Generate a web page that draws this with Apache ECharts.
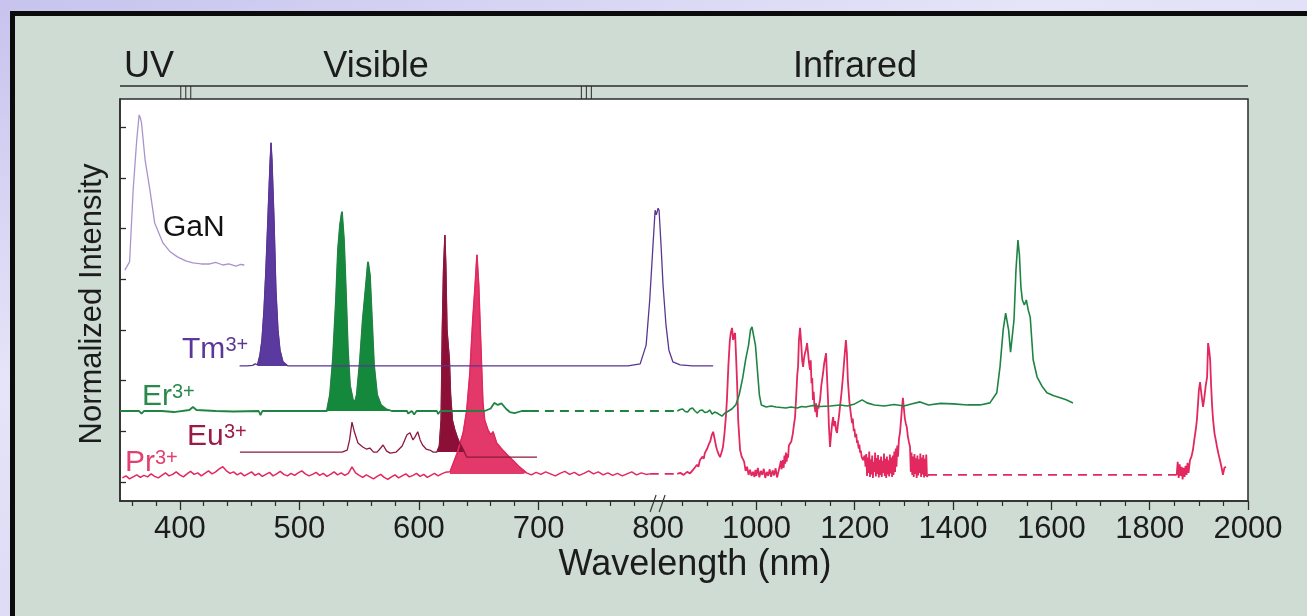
<!DOCTYPE html>
<html>
<head>
<meta charset="utf-8">
<script src="https://cdn.jsdelivr.net/npm/echarts@6/dist/echarts.min.js"></script>
<style>
  html, body { margin: 0; padding: 0; width: 1307px; height: 616px; overflow: hidden;
    background: linear-gradient(160deg, #c6c3ee 0%, #e6e4f8 35%, #d9d7f4 70%, #c8c6ef 100%); }
  #panel { position: absolute; left: 10px; top: 11px; right: 0; bottom: 0;
    background: #cedcd4; border-top: 5px solid #0b0b0b; border-left: 5px solid #0b0b0b; }
  #chart { position: absolute; left: 0; top: 0; width: 1307px; height: 616px; }
</style>
</head>
<body>
<div id="panel"></div>
<div id="chart"></div>
<script>
// ---- axis ticks (nm) ----
const labelTicks = [400, 500, 600, 700, 800, 1000, 1200, 1400, 1600, 1800, 2000];
const majorTicks = [400, 500, 600, 700, 1000, 1200, 1400, 1600, 1800, 2000];
const minorTicks = [360, 380, 420, 440, 460, 480, 520, 540, 560, 580, 620, 640, 660, 680,
  720, 740, 760, 780, 850, 900, 950, 1050, 1100, 1150, 1250, 1300, 1350, 1450, 1500, 1550,
  1650, 1700, 1750, 1850, 1900, 1950];
const intensityTicks = [0, 1, 2, 3, 4, 5, 6, 7];
const regionBounds = [405, 740];   // UV | Visible | Infrared

// ---- spectra: [wavelength nm, normalized intensity (stacked offsets)] ----
const ganSpectrum = [[354,4.18],[358,4.34],[361,5.76],[364,6.75],[366,7.24],[367,7.18],[368,7.08],
  [371,6.35],[375,5.76],[379,5.11],[386,4.71],[392,4.54],[398,4.44],[405,4.36],[411,4.32],[418,4.30],
  [425,4.30],[430,4.33],[436,4.28],[441,4.30],[447,4.26],[451,4.29],[454,4.28]];

const tmBase = [[450,2.29],[456,2.29],[461,2.30],[463,2.33]];
const tmBluePeak = [[465,2.31],[467,2.50],[468.7,2.80],[470.4,3.39],[472,4.18],[473.8,5.27],
  [475.4,6.25],[476.3,6.69],[477.1,6.35],[478.8,5.17],[480.4,3.79],[482.1,3.00],[483.8,2.60],
  [486.3,2.37],[490.5,2.29]];
const tmFlat = [[520,2.29],[600,2.29],[700,2.29],[774.8,2.29]];
const tmIrPeak = [[785,2.33],[790,2.70],[793,3.59],[795.5,4.58],[797.5,5.36],[798.5,5.27],
  [800,5.40],[802,5.36],[806,4.67],[810,3.89],[816,3.10],[822,2.60],[830,2.37],[845,2.31],
  [870,2.29],[912,2.29]];

const erVisA = [[350,1.40],[366,1.40],[368,1.35],[370,1.40],[385,1.40],[395,1.38],[408,1.42],
  [411,1.48],[414,1.42],[430,1.40],[445,1.39],[466,1.40],[467.5,1.32],[469,1.40],[500,1.40],
  [518,1.40]];
const erGreenPeaks = [[523,1.40],[525.6,1.72],[528,2.41],[530.6,3.59],[532.3,4.58],[534,5.07],
  [535.6,5.33],[537.3,4.77],[539,3.69],[540.6,2.60],[542.3,1.91],[544.8,1.62],[546.5,1.58],
  [548,1.72],[550.7,2.41],[553,3.20],[555.7,3.89],[557.4,4.34],[559,4.08],[560.7,3.20],
  [562.4,2.31],[565,1.72],[568.2,1.52],[572.4,1.44],[577.4,1.40]];
const erVisB = [[590,1.40],[591,1.35],[594,1.40],[596,1.33],[598,1.40],[615,1.40],[616,1.34],
  [618,1.40],[655,1.40],[660,1.45],[663,1.56],[666,1.52],[669,1.55],[673,1.44],[676,1.38],
  [680,1.36],[686,1.40],[692.8,1.40]];
const erGap = [[692.8,1.40],[839,1.40]];
const erIr = [[839,1.40],[845,1.43],[850,1.44],[855,1.39],[860,1.38],[865,1.44],[870,1.46],
  [875,1.40],[880,1.36],[885,1.41],[890,1.42],[895,1.37],[900,1.38],[905,1.42],[910,1.34],
  [915,1.38],[920,1.36],[925,1.33],[930,1.30],[935,1.35],[940,1.38],[950,1.44],[958,1.52],
  [965,1.72],[972,2.05],[978,2.41],[984,2.70],[988,3.00],[991,3.06],[994,2.90],[998,2.70],
  [1002,2.21],[1006,1.72],[1010,1.52],[1020,1.48],[1030,1.50],[1040,1.48],[1050,1.47],[1060,1.46],
  [1070,1.48],[1083,1.46],[1092,1.49],[1100,1.48],[1115,1.51],[1130,1.49],[1150,1.50],[1170,1.52],
  [1185,1.50],[1200,1.54],[1215,1.62],[1225,1.56],[1240,1.52],[1260,1.50],[1280,1.53],[1300,1.50],
  [1315,1.54],[1333,1.58],[1350,1.52],[1375,1.55],[1400,1.54],[1430,1.52],[1455,1.52],[1475,1.56],
  [1489,1.76],[1495.5,2.27],[1502,3.00],[1507,3.33],[1510,3.35],[1513,3.00],[1517,2.56],
  [1520,2.54],[1524,3.20],[1528,4.18],[1532,4.77],[1535,4.48],[1538,3.85],[1541,3.59],[1545,3.49],
  [1549,3.59],[1553,3.39],[1557,3.25],[1563,2.41],[1571,2.07],[1581,1.89],[1591,1.76],[1605,1.70],
  [1618,1.66],[1630,1.62],[1644,1.56]];

const euLine = [[450.3,0.59],[535.6,0.59],[540,0.63],[542,0.83],[544,1.18],[546,0.99],[549,0.77],
  [553,0.69],[556,0.65],[559,0.67],[562,0.59],[565,0.59],[568,0.67],[570,0.73],[573,0.61],
  [576,0.57],[581,0.59],[586,0.71],[590,0.93],[592.5,0.97],[595,0.83],[596.7,0.89],[599,0.99],
  [601,0.83],[603,0.73],[606,0.65],[609,0.63],[612,0.59]];
const euRedPeak = [[615,0.59],[617,0.71],[618.5,1.22],[619.5,3.00],[620.5,4.18],[621.7,4.87],
  [622.5,4.28],[623.5,3.00],[624.5,2.70],[625.5,2.41],[626.5,1.72],[628,1.22],[630,1.03],
  [632,0.89],[634,0.77],[636,0.69],[638,0.59]];
const euTail = [[640,0.49],[670,0.49],[698.7,0.49]];

const prVisA = [[352,.08],[355,.12],[358,.06],[361,.10],[364,.14],[367,.09],[370,.13],[373,.10],
  [376,.16],[379,.11],[382,.08],[385,.13],[388,.18],[391,.12],[394,.15],[397,.20],[400,.14],
  [403,.10],[406,.16],[409,.21],[412,.15],[415,.18],[418,.12],[421,.17],[424,.22],[427,.16],
  [430,.20],[433,.26],[436,.30],[439,.22],[442,.17],[445,.20],[448,.14],[451,.18],[454,.12],
  [457,.16],[460,.20],[463,.13],[466,.17],[469,.11],[472,.15],[475,.19],[478,.12],[481,.16],
  [484,.21],[487,.15],[490,.12],[493,.17],[496,.13],[499,.18],[502,.22],[505,.16],[508,.12],
  [511,.15],[514,.19],[517,.13],[520,.17],[523,.11],[526,.15],[529,.20],[532,.14],[535,.18],
  [538,.13],[541,.17],[544,.30],[547,.18],[550,.13],[553,.09],[556,.14],[559,.10],[562,.06],
  [565,.11],[568,.15],[571,.09],[574,.05],[577,.10],[580,.14],[583,.08],[586,.12],[589,.16],
  [592,.10],[595,.13],[598,.17],[601,.11],[604,.15],[607,.09],[610,.13],[613,.17],[616,.12],
  [619,.16],[622,.19]];
const prRedPeak = [[626,.20],[632,.57],[637,.97],[640,1.42],[642.6,2.15],[645,3.20],[647,3.89],
  [648.5,4.48],[650,3.89],[651,3.20],[653.5,1.56],[655,1.22],[657.7,1.03],[660,0.93],[662,0.99],
  [665,0.77],[670,0.63],[674,0.53],[678.6,0.43],[683,0.32],[687,0.24],[690,0.18]];
const prVisB = [[694,.14],[698,.19],[702,.15],[706,.20],[710,.16],[714,.12],[718,.17],[722,.21],
  [726,.15],[730,.19],[734,.13],[738,.17],[742,.22],[746,.16],[750,.20],[754,.14],[758,.18],
  [762,.13],[766,.17],[770,.12],[774,.16],[778,.20],[782,.14],[786,.18],[790,.15],[793,.16]];
const prGapA = [[793,.16],[839,.16]];
const prIrA = [[839,.16],[845,.18],[852,.14],[859,.20],[865,.17],[871,.24],[876,.30],[879,.34],
  [882,.30],[885,.43],[888,.40],[890,.50],[893,.46],[895,.57],[898,.54],[900,.66],[903,.74],
  [906,.80],[909,.92],[912,.99],[915,.85],[918,.70],[920,.63],[923,.55],[926,.49],[929,.58],
  [932,.69],[935,.95],[938,1.30],[940,1.62],[943,2.30],[946,2.80],[948,2.95],[950.5,3.04],
  [952.5,2.80],[954.5,2.90],[956.6,2.94],[958.5,2.50],[960.7,1.95],[963,1.20],[966.8,.63],[970,.50],
  [975,.40],[978,.22],[981,.30],[984,.14],[987,.24],[990,.12],[993,.20],[996,.10],[998,.24],
  [1000,.12],[1003,.28],[1006,.09],[1009,.22],[1012,.14],[1015,.26],[1018,.08],[1021,.20],
  [1024,.12],[1027,.25],[1030,.10],[1033,.23],[1036,.13],[1039,.27],[1042,.09],[1045,.21],
  [1048,.20],[1050,.42],[1051,.25],[1054,.43],[1055.5,.28],[1057,.52],[1058.5,.36],[1060,.58],
  [1061.5,.40],[1063,.55],[1064.5,.48],[1066,.72],[1068.5,.69],[1071,.80],[1074,.95],[1076,1.10],
  [1078.6,1.28],[1081,1.70],[1083,2.10],[1084.7,2.27],[1086.5,2.80],[1088.8,3.04],[1091,2.75],
  [1093,2.40],[1095,2.27],[1097,2.45],[1099,2.55],[1101,2.62],[1103,2.74],[1105,2.55],[1107,2.35],
  [1109,2.21],[1110.5,2.40],[1112,1.95],[1113.5,2.05],[1115,1.62],[1116.5,1.78],[1118,1.50],
  [1120,1.38],[1121.5,1.55],[1123,1.28],[1124.5,1.50],[1126,1.45],[1129.5,1.62],[1132,1.90],
  [1135.6,2.15],[1138,2.35],[1141.7,2.54],[1143.5,2.10],[1145.7,1.62],[1147.5,1.10],[1149.8,.69],
  [1152,.95],[1154,1.15],[1156,1.28],[1158,1.10],[1160,1.20],[1162,1.02],[1164,.97],[1166,1.15],
  [1168,1.30],[1170,1.48],[1173,1.75],[1176,2.07],[1179,2.45],[1182,2.80],[1184,2.55],[1186,2.01],
  [1189,1.60],[1192,1.35],[1194.6,1.16],[1196,1.25],[1198,1.00],[1199.5,1.05],[1201,.88],
  [1203,.95],[1204.7,.77],[1206,.82],[1208,.66],[1209.5,.74],[1211,.58],[1212.5,.62],[1214,.50],
  [1217,.43],[1220,.52],[1222,.30],[1223.5,.55],[1225,.12],[1226.5,.48],[1228,.18],[1229.5,.60],
  [1231,.10],[1232.5,.45],[1234,.15],[1235.5,.52],[1237,.08],[1238.5,.40],[1240,.20],[1241.5,.58],
  [1243,.11],[1244.5,.47],[1246,.16],[1247.5,.53],[1249,.09],[1250.5,.44],[1252,.14],[1253.5,.50],
  [1255,.10],[1256.5,.42],[1258,.18],[1259.5,.56],[1261,.12],[1262.5,.46],[1264,.08],[1265.5,.50],
  [1267,.15],[1268.5,.43],[1270,.11],[1271.5,.54],[1273,.17],[1274.5,.48],[1276,.10],[1277.5,.52],
  [1279,.14],[1280.5,.60],[1282,.20],[1283.5,.66],[1285,.30],[1286.5,.72],[1288,.50],[1290,.85],
  [1292,.97],[1294,1.20],[1296,1.45],[1298,1.66],[1300,1.45],[1302,1.25],[1304,1.15],[1306,1.08],
  [1308,.90],[1310,.80],[1312.5,.69],[1314,.20],[1315.5,.58],[1317,.14],[1318.5,.50],[1320,.10],
  [1321.5,.55],[1323,.16],[1324.5,.47],[1326,.08],[1327.5,.52],[1329,.13],[1330.5,.45],[1332,.18],
  [1333.5,.56],[1335,.10],[1336.5,.48],[1338,.15],[1339.5,.53],[1341,.09],[1342.5,.46],[1344,.12],
  [1345.5,.54],[1347,.10],[1349,.14]];
const prGapB = [[1349,.14],[1855,.14]];
const prIrB = [[1855,.14],[1857,.40],[1859,.08],[1861,.35],[1863,.12],[1865,.30],[1867,.05],
  [1869,.28],[1871,.10],[1873,.32],[1875,.14],[1877,.38],[1879,.18],[1882,.43],[1885,.50],
  [1888,.63],[1891,.85],[1894,1.05],[1896,1.22],[1898,1.50],[1900,1.80],[1902.5,1.97],[1905,1.75],
  [1908.6,1.48],[1911,1.65],[1914,1.90],[1916.8,2.07],[1918.8,2.74],[1921,2.60],[1923,2.41],
  [1925,1.90],[1927,1.50],[1929,1.22],[1932,.95],[1935,.80],[1937,.69],[1940,.55],[1943,.43],
  [1946,.30],[1949,.14],[1952,.28],[1955,.30]];

// ---- broken wavelength axis: linear to 800 nm, compressed beyond ----
const BREAK_NM = 800;
const IR_SCALE = 0.4111;
const toAxis = nm => nm <= BREAK_NM ? nm : BREAK_NM + (nm - BREAK_NM) * IR_SCALE;
const fromAxis = u => u <= BREAK_NM ? u : BREAK_NM + (u - BREAK_NM) / IR_SCALE;
const pts = arr => arr.map(p => [toAxis(p[0]), p[1]]);

const FONT = "'Liberation Sans', Arial, Helvetica, sans-serif";
const INK = '#1c1c1c';
const C = {
  gan: '#a894cb',
  tm: '#5a3592', tmFill: '#5b3a9f',
  er: '#1f8443', erFill: '#14893c',
  eu: '#8c1a3e', euFill: '#8b0f37',
  pr: '#e2285f', prFill: '#e3386a'
};

function lineSeries(data, color, width, dashed) {
  return {
    type: 'line', data: pts(data), showSymbol: false, symbol: 'none', animation: false,
    silent: true, sampling: null,
    lineStyle: { color, width, type: dashed ? [9, 6] : 'solid' }
  };
}
function fillSeries(data, color, base) {
  return {
    type: 'line', data: pts(data), showSymbol: false, symbol: 'none', animation: false, silent: true,
    lineStyle: { color, width: 1 },
    areaStyle: { color, opacity: 1, origin: base }
  };
}

const GRID = { left: 120, right: 59, top: 99, bottom: 115 };

const chart = echarts.init(document.getElementById('chart'), null, { renderer: 'canvas' });
chart.setOption({
  backgroundColor: 'transparent',
  grid: Object.assign({ show: true, backgroundColor: '#ffffff', borderColor: '#2b2b2b', borderWidth: 1.5 }, GRID),
  xAxis: [{
    type: 'value', min: toAxis(350), max: toAxis(2000), position: 'bottom',
    axisLine: { show: true, onZero: false, lineStyle: { color: '#2b2b2b', width: 1.5 } },
    axisTick: { show: true, inside: false, length: 9, customValues: majorTicks.map(toAxis),
      lineStyle: { color: '#2b2b2b', width: 1.3 } },
    axisLabel: { show: true, customValues: labelTicks.map(toAxis), margin: 13,
      formatter: v => String(Math.round(fromAxis(v))),
      fontSize: 31, fontFamily: FONT, color: INK },
    splitLine: { show: false }
  }, {
    type: 'value', min: toAxis(350), max: toAxis(2000), position: 'bottom',
    axisLine: { show: false, onZero: false },
    axisTick: { show: true, inside: false, length: 5, customValues: minorTicks.map(toAxis),
      lineStyle: { color: '#2b2b2b', width: 1.2 } },
    axisLabel: { show: false },
    splitLine: { show: false }
  }],
  yAxis: {
    type: 'value', min: -0.375, max: 7.554,
    axisLine: { show: true, onZero: false, lineStyle: { color: '#2b2b2b', width: 1.5 } },
    axisTick: { show: true, inside: true, length: 6, customValues: intensityTicks,
      lineStyle: { color: '#2b2b2b', width: 1.3 } },
    axisLabel: { show: false },
    splitLine: { show: false }
  },
  series: [
    fillSeries(prRedPeak, C.prFill, 0.16),
    fillSeries(euRedPeak, C.euFill, 0.59),
    fillSeries(erGreenPeaks, C.erFill, 1.40),
    fillSeries(tmBluePeak, C.tmFill, 2.29),
    lineSeries(prVisA.concat(prRedPeak, prVisB), C.pr, 1.5),
    lineSeries(prGapA, C.pr, 1.8, true),
    lineSeries(prIrA, C.pr, 1.8),
    lineSeries(prGapB, C.pr, 1.8, true),
    lineSeries(prIrB, C.pr, 1.8),
    lineSeries(euLine.concat(euRedPeak, euTail), C.eu, 1.3),
    lineSeries(erVisA.concat(erGreenPeaks, erVisB), C.er, 1.8),
    lineSeries(erGap, C.er, 2, true),
    lineSeries(erIr, C.er, 1.6),
    lineSeries(tmBase.concat(tmBluePeak, tmFlat, tmIrPeak), C.tm, 1.3),
    lineSeries(ganSpectrum, C.gan, 1.3)
  ]
});

// ---- annotations placed through the axis scale ----
const px = nm => chart.convertToPixel({ xAxisIndex: 0 }, toAxis(nm));
const W = 1307, H = 616;
const plotL = GRID.left, plotR = W - GRID.right, plotT = GRID.top, plotB = H - GRID.bottom;
const bandY = plotT - 13;

function text(x, y, str, size, color, align, extra) {
  return Object.assign({
    type: 'text', x, y, silent: true,
    style: { text: str, fill: color, font: size + 'px ' + FONT, align: align || 'left', verticalAlign: 'middle' }
  }, extra || {});
}
function ion(x, baseline, main, sup, color, mainWidth) {
  return [
    text(x, baseline - 10.5, main, 30, color),
    text(x + mainWidth, baseline - 8 - 7, sup, 20, color)
  ];
}

const g = [];
// region band above the plot
g.push({ type: 'line', silent: true, shape: { x1: plotL, y1: bandY, x2: plotR, y2: bandY },
  style: { stroke: '#2b2b2b', lineWidth: 1.5 } });
regionBounds.forEach(nm => {
  const cx = px(nm);
  [-5, 0, 5].forEach(d => g.push({ type: 'line', silent: true,
    shape: { x1: cx + d, y1: bandY, x2: cx + d, y2: plotT },
    style: { stroke: '#2b2b2b', lineWidth: 1 } }));
});
g.push(text(149, 80 - 12.6, 'UV', 36, INK, 'center'));
g.push(text(376, 80 - 12.6, 'Visible', 36, INK, 'center'));
g.push(text(855, 80 - 12.6, 'Infrared', 36, INK, 'center'));

// axis break mark at 800 nm
const bx = px(BREAK_NM);
g.push({ type: 'line', silent: true, shape: { x1: bx - 8, y1: plotB + 11, x2: bx - 2, y2: plotB - 6 },
  style: { stroke: '#3a3a3a', lineWidth: 1.2 } });
g.push({ type: 'line', silent: true, shape: { x1: bx + 1, y1: plotB + 11, x2: bx + 7, y2: plotB - 6 },
  style: { stroke: '#3a3a3a', lineWidth: 1.2 } });

// axis titles
g.push(text(695, 578 - 12.6, 'Wavelength (nm)', 36, INK, 'center'));
g.push(text(92, 304, 'Normalized Intensity', 31, INK, 'center', { rotation: Math.PI / 2 }));

// spectrum labels
g.push(text(163, 238 - 10.5, 'GaN', 30, '#111111'));
ion(182, 360, 'Tm', '3+', '#5b3796', 43.5).forEach(e => g.push(e));
ion(142, 407, 'Er', '3+', '#2a8a4c', 30).forEach(e => g.push(e));
ion(187, 447, 'Eu', '3+', '#9a1c45', 37).forEach(e => g.push(e));
ion(125, 473, 'Pr', '3+', '#e3406f', 30).forEach(e => g.push(e));

chart.setOption({ graphic: { elements: g } });
</script>
</body>
</html>
